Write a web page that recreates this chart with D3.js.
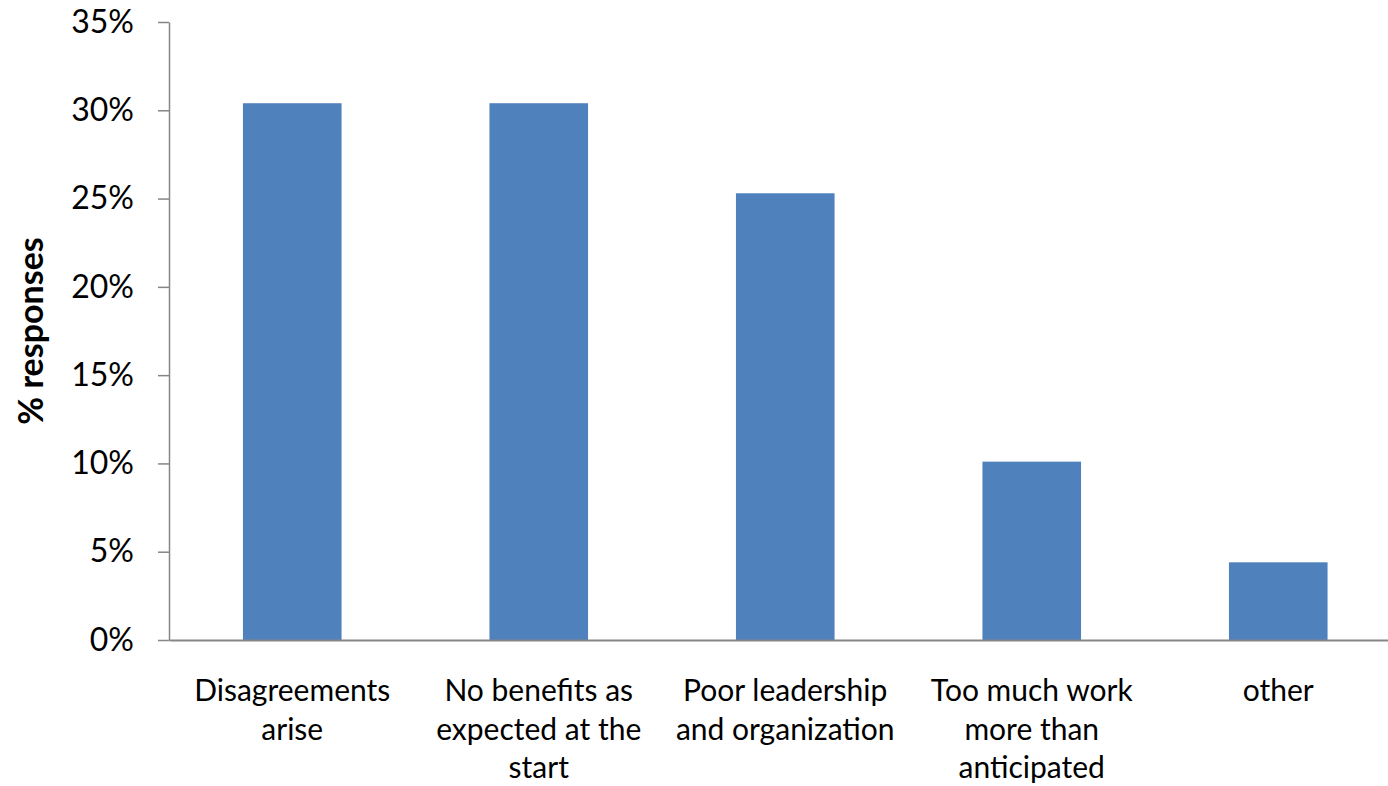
<!DOCTYPE html>
<html>
<head>
<meta charset="utf-8">
<script src="https://cdn.jsdelivr.net/npm/d3@7"></script>
<style>
  html, body { margin: 0; padding: 0; background: #fff; }
  svg { display: block; }
  text { font-family: Lato, "Open Sans", sans-serif; fill: #000; }
</style>
</head>
<body>
<svg id="chart" width="1388" height="786"></svg>
<script>
const categories = [
  "Disagreements\narise",
  "No benefits as\nexpected at the\nstart",
  "Poor leadership\nand organization",
  "Too much work\nmore than\nanticipated",
  "other"
];
const values = [0.304, 0.304, 0.253, 0.101, 0.044];
const yTicks = [0, 0.05, 0.10, 0.15, 0.20, 0.25, 0.30, 0.35];
const yTitle = "% responses";

(function () {
const svg = d3.select("#chart");
const mLeft = 169, mTop = 22, mBottom = 640, mRight = 1401.5;

const x = d3.scaleBand().domain(categories).range([mLeft, mRight])
  .paddingInner(0.6).paddingOuter(0.3);
const y = d3.scaleLinear().domain([0, 0.35]).range([mBottom, mTop]);

svg.append("g").selectAll("rect").data(values).join("rect")
  .attr("x", (d, i) => x(categories[i]))
  .attr("y", d => y(d))
  .attr("width", x.bandwidth())
  .attr("height", d => y(0) - y(d))
  .attr("fill", "#4F81BD");

const yAxis = svg.append("g").attr("transform", `translate(${mLeft},0)`)
  .call(d3.axisLeft(y).tickValues(yTicks).tickFormat(d3.format(".0%"))
    .tickSize(11).tickSizeOuter(0).tickPadding(24));
yAxis.selectAll("path, line").attr("stroke", "#868686").attr("stroke-width", 1.5);
yAxis.selectAll("text").style("font-size", "32px").attr("fill", "#000");

const xAxis = svg.append("g").attr("transform", `translate(0,${mBottom})`)
  .call(d3.axisBottom(x).tickSize(0).tickSizeOuter(0).tickFormat(""));
xAxis.select("path").attr("stroke", "#868686").attr("stroke-width", 2);

const lbl = svg.append("g");
categories.forEach(c => {
  const t = lbl.append("text")
    .attr("text-anchor", "middle")
    .style("font-size", "30px");
  c.split("\n").forEach((line, j) => {
    t.append("tspan").attr("x", x(c) + x.bandwidth() / 2)
      .attr("y", 701 + j * 38.5).text(line);
  });
});

svg.append("text")
  .attr("transform", "translate(43,331) rotate(-90)")
  .attr("text-anchor", "middle")
  .style("font-size", "34px").style("font-weight", "bold")
  .text(yTitle);
})();
</script>
</body>
</html>
